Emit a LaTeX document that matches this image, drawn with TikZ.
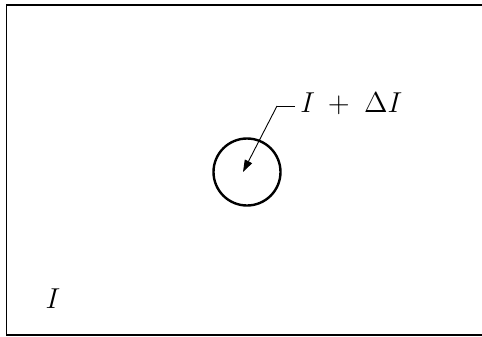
\documentclass[tikz,border=0pt]{standalone}
\usetikzlibrary{arrows.meta}
\begin{document}
\begin{tikzpicture}[x=0.5pt,y=-0.5pt,
  frame/.style={line width=0.75pt},
  ring/.style={circle,draw,line width=1.2pt,minimum size=33.5pt,inner sep=0pt},
  lbl/.style={inner sep=0pt,font=\fontsize{13.5}{15}\selectfont},
  biglbl/.style={inner sep=0pt,font=\fontsize{15}{18}\selectfont},
  pointer/.style={line width=0.45pt,-{Triangle[length=6pt,width=4pt]}}]
\useasboundingbox (0,0) rectangle (482,337);
\clip (0,0) rectangle (482,337);
\draw[frame] (6.5,5) rectangle (486,335);
\node[ring] (c) at (247,172) {};
\coordinate (tip) at (243,172);
\node[lbl,anchor=base west] (t) at (300,112) {$I\mkern4mu+\mkern5mu\Delta I$};
\coordinate (bend) at (277,106);
\draw[line width=0.45pt] (295,106) -- (bend);
\draw[pointer] (bend) -- (tip);
\node[biglbl,anchor=base] (i) at (53,308) {$I$};
\end{tikzpicture}
\end{document}
